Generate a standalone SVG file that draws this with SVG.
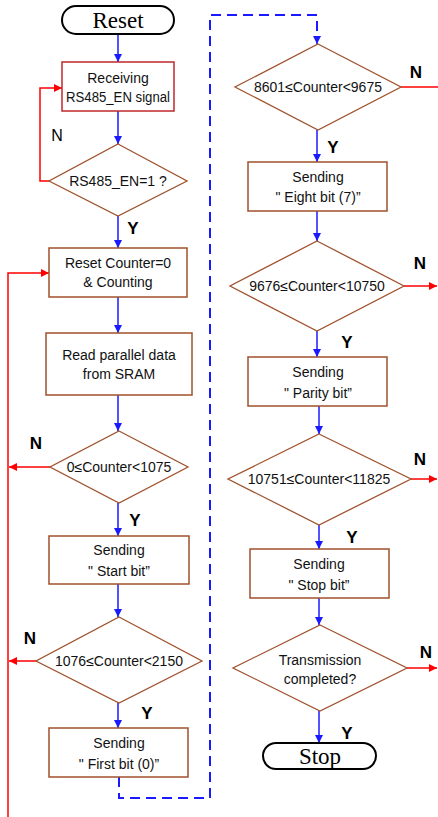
<svg xmlns="http://www.w3.org/2000/svg" width="438" height="817" viewBox="0 0 438 817">
  <defs>
    <marker id="ab" viewBox="0 0 10 10" refX="10" refY="5" markerWidth="8" markerHeight="8" markerUnits="userSpaceOnUse" orient="auto">
      <path d="M0,0 L10,5 L0,10 z" fill="#1a1aff"/>
    </marker>
    <marker id="ar" viewBox="0 0 10 10" refX="10" refY="5" markerWidth="8" markerHeight="8" markerUnits="userSpaceOnUse" orient="auto">
      <path d="M0,0 L10,5 L0,10 z" fill="#ff0000"/>
    </marker>
  </defs>
  <style>
    .box { fill: #ffffff; stroke: #a0522d; stroke-width: 1.5; }
    .rbox { fill: #ffffff; stroke: #c0282d; stroke-width: 1.5; }
    .dia { fill: #ffffff; stroke: #a0522d; stroke-width: 1.3; }
    .term { fill: #ffffff; stroke: #000000; stroke-width: 2; }
    .t { font-family: "Liberation Sans", Arial, sans-serif; font-size: 14px; fill: #111; text-anchor: middle; }
    .tt { font-family: "Liberation Serif", "Times New Roman", serif; font-size: 23px; fill: #000; text-anchor: middle; }
    .lb { font-family: "Liberation Sans", Arial, sans-serif; font-size: 17px; font-weight: bold; fill: #000; text-anchor: middle; }
    .lr { font-family: "Liberation Sans", Arial, sans-serif; font-size: 16px; fill: #000; text-anchor: middle; }
    .fb { fill: none; stroke: #1a1aff; stroke-width: 1.5; }
    .fr { fill: none; stroke: #ff0000; stroke-width: 1.5; }
    .fd { fill: none; stroke: #1a1aff; stroke-width: 2; stroke-dasharray: 10 6; }
  </style>

  <!-- connectors -->
  <g id="connectors">
    <line class="fb" x1="118" y1="34" x2="118" y2="62" marker-end="url(#ab)"/>
    <line class="fb" x1="118" y1="111" x2="118" y2="144" marker-end="url(#ab)"/>
    <polyline class="fr" points="49,181 40,181 40,88 62,88" marker-end="url(#ar)"/>
    <line class="fb" x1="118" y1="216" x2="118" y2="248" marker-end="url(#ab)"/>
    <polyline class="fr" points="8,817 8,273 49,273" marker-end="url(#ar)"/>
    <line class="fb" x1="118" y1="297" x2="118" y2="333" marker-end="url(#ab)"/>
    <line class="fb" x1="118" y1="395" x2="118" y2="431" marker-end="url(#ab)"/>
    <line class="fr" x1="50" y1="467" x2="9" y2="467" marker-end="url(#ar)"/>
    <line class="fb" x1="118" y1="503" x2="118" y2="536" marker-end="url(#ab)"/>
    <line class="fb" x1="118" y1="584" x2="118" y2="617" marker-end="url(#ab)"/>
    <line class="fr" x1="36" y1="661" x2="9" y2="661" marker-end="url(#ar)"/>
    <line class="fb" x1="118" y1="703" x2="118" y2="728" marker-end="url(#ab)"/>
    <polyline class="fd" points="119,777 119,798 210,798 210,15 317,15 317,37"/>
    <line class="fb" x1="317" y1="36" x2="317" y2="44" marker-end="url(#ab)"/>
    <line class="fr" x1="401" y1="87" x2="438" y2="87"/>
    <line class="fb" x1="317" y1="130" x2="317" y2="162" marker-end="url(#ab)"/>
    <line class="fb" x1="317" y1="211" x2="317" y2="241" marker-end="url(#ab)"/>
    <line class="fr" x1="404" y1="286" x2="437" y2="286" marker-end="url(#ar)"/>
    <line class="fb" x1="317" y1="331" x2="317" y2="357" marker-end="url(#ab)"/>
    <line class="fb" x1="319" y1="406" x2="319" y2="434" marker-end="url(#ab)"/>
    <line class="fr" x1="411" y1="479" x2="437" y2="479" marker-end="url(#ar)"/>
    <line class="fb" x1="319" y1="525" x2="319" y2="549" marker-end="url(#ab)"/>
    <line class="fb" x1="319" y1="598" x2="319" y2="625" marker-end="url(#ab)"/>
    <line class="fr" x1="407" y1="668" x2="437" y2="668" marker-end="url(#ar)"/>
    <line class="fb" x1="319" y1="711" x2="319" y2="743" marker-end="url(#ab)"/>
  </g>

  <!-- branch labels -->
  <g id="labels">
    <text class="lr" x="57" y="141">N</text>
    <text class="lb" x="133" y="234">Y</text>
    <text class="lb" x="36" y="449">N</text>
    <text class="lb" x="135" y="526">Y</text>
    <text class="lb" x="30" y="644">N</text>
    <text class="lb" x="147" y="719">Y</text>
    <text class="lb" x="416" y="78">N</text>
    <text class="lb" x="333" y="153">Y</text>
    <text class="lb" x="420" y="269">N</text>
    <text class="lb" x="347" y="348">Y</text>
    <text class="lb" x="420" y="465">N</text>
    <text class="lb" x="352" y="543">Y</text>
    <text class="lb" x="426" y="658">N</text>
    <text class="lb" x="347" y="739">Y</text>
  </g>

  <!-- left column -->
  <g id="reset">
    <rect class="term" x="62" y="6" width="112" height="28" rx="14"/>
    <text class="tt" x="118" y="28">Reset</text>
  </g>
  <g id="receiving">
    <rect class="rbox" x="62" y="62" width="112" height="49"/>
    <text class="t" x="118" y="83">Receiving</text>
    <text class="t" x="118" y="102" textLength="104" lengthAdjust="spacingAndGlyphs">RS485_EN signal</text>
  </g>
  <g id="check-en">
    <polygon class="dia" points="118,144 187,181 118,216 49,181"/>
    <text class="t" x="118" y="186">RS485_EN=1 ?</text>
  </g>
  <g id="reset-counter">
    <rect class="box" x="49" y="248" width="138" height="49"/>
    <text class="t" x="118" y="268">Reset Counter=0</text>
    <text class="t" x="118" y="287">&amp; Counting</text>
  </g>
  <g id="read-sram">
    <rect class="box" x="46" y="333" width="146" height="62"/>
    <text class="t" x="119" y="360">Read parallel data</text>
    <text class="t" x="119" y="379">from SRAM</text>
  </g>
  <g id="check-start">
    <polygon class="dia" points="119,431 188,467 119,503 50,467"/>
    <text class="t" x="119" y="472">0≤Counter&lt;1075</text>
  </g>
  <g id="send-start">
    <rect class="box" x="49" y="536" width="140" height="48"/>
    <text class="t" x="119" y="555">Sending</text>
    <text class="t" x="119" y="576">" Start bit”</text>
  </g>
  <g id="check-first">
    <polygon class="dia" points="119,617 202,661 119,703 36,661"/>
    <text class="t" x="119" y="666">1076≤Counter&lt;2150</text>
  </g>
  <g id="send-first">
    <rect class="box" x="49" y="728" width="139" height="49"/>
    <text class="t" x="119" y="748">Sending</text>
    <text class="t" x="119" y="769">" First bit (0)”</text>
  </g>

  <!-- right column -->
  <g id="check-eighth">
    <polygon class="dia" points="318,44 401,87 318,130 235,87"/>
    <text class="t" x="318" y="92">8601≤Counter&lt;9675</text>
  </g>
  <g id="send-eighth">
    <rect class="box" x="248" y="162" width="139" height="49"/>
    <text class="t" x="318" y="182">Sending</text>
    <text class="t" x="318" y="202">" Eight bit (7)”</text>
  </g>
  <g id="check-parity">
    <polygon class="dia" points="317,241 404,286 317,331 230,286"/>
    <text class="t" x="317" y="291">9676≤Counter&lt;10750</text>
  </g>
  <g id="send-parity">
    <rect class="box" x="248" y="357" width="139" height="49"/>
    <text class="t" x="318" y="377">Sending</text>
    <text class="t" x="318" y="398">" Parity bit”</text>
  </g>
  <g id="check-stop">
    <polygon class="dia" points="319,434 411,479 319,525 228,479"/>
    <text class="t" x="319" y="484">10751≤Counter&lt;11825</text>
  </g>
  <g id="send-stop">
    <rect class="box" x="250" y="549" width="139" height="49"/>
    <text class="t" x="319" y="569">Sending</text>
    <text class="t" x="319" y="590">" Stop bit”</text>
  </g>
  <g id="check-done">
    <polygon class="dia" points="320,625 407,668 320,711 233,668"/>
    <text class="t" x="320" y="665">Transmission</text>
    <text class="t" x="320" y="684">completed?</text>
  </g>
  <g id="stop">
    <rect class="term" x="263" y="743" width="113" height="26" rx="13"/>
    <text class="tt" x="320" y="764">Stop</text>
  </g>
</svg>
